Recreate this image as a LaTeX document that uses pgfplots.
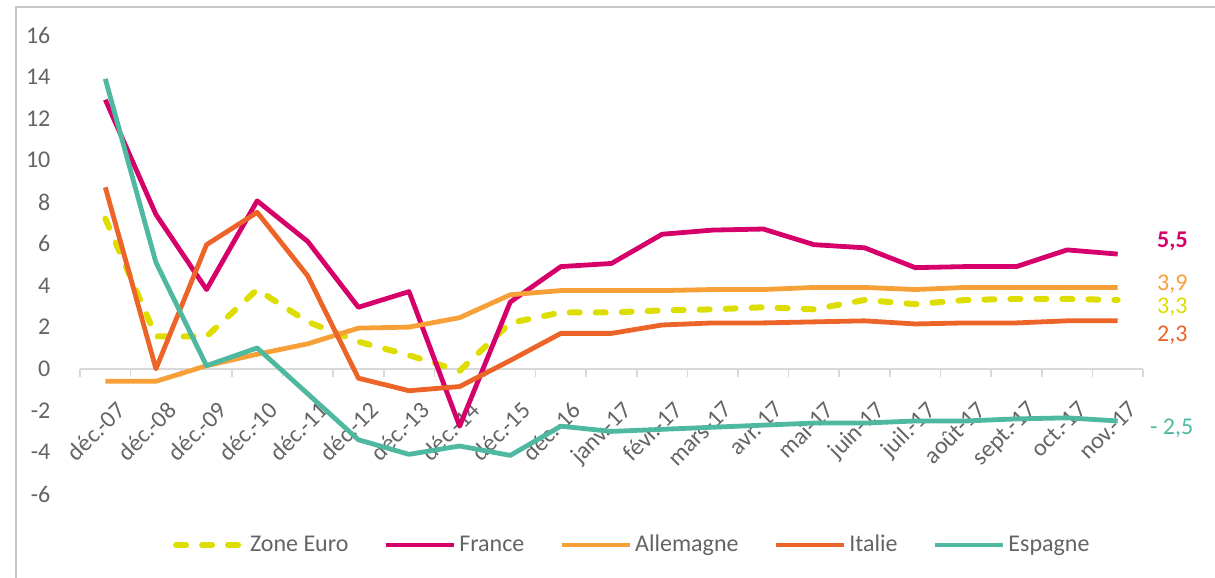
\documentclass[border=0pt]{standalone}
\usepackage{fontspec}
\setmainfont{Carlito}
\usepackage{pgfplots}
\pgfplotsset{compat=1.18}
\usepackage{pgfplotstable}

\definecolor{cEuro}{RGB}{221,221,0}
\definecolor{cFrance}{RGB}{214,0,106}
\definecolor{cAll}{RGB}{247,160,56}
\definecolor{cIta}{RGB}{237,100,40}
\definecolor{cEsp}{RGB}{79,184,160}
\definecolor{tickgray}{RGB}{100,100,100}

% x = 0..20 : déc.-07 ... nov.-17
\pgfplotstableread{
x  euro  france  allem  italie  espagne
0  7.2   12.9   -0.6    8.7    13.9
1  1.55   7.4   -0.6    0.0     5.1
2  1.55   3.8    0.15   5.95    0.15
3  3.8    8.05   0.7    7.5     1.0
4  2.25   6.1    1.2    4.45   -1.2
5  1.3    2.95   1.95  -0.45   -3.4
6  0.65   3.7    2.0   -1.05   -4.1
7 -0.1   -2.75   2.45  -0.85   -3.7
8  2.2    3.2    3.55   0.4    -4.15
9  2.7    4.9    3.75   1.7    -2.75
10 2.7    5.05   3.75   1.7    -3.0
11 2.8    6.45   3.75   2.1    -2.9
12 2.85   6.65   3.8    2.2    -2.8
13 2.95   6.7    3.8    2.2    -2.7
14 2.85   5.95   3.9    2.25   -2.6
15 3.3    5.8    3.9    2.3    -2.6
16 3.1    4.85   3.8    2.15   -2.5
17 3.3    4.9    3.9    2.2    -2.5
18 3.35   4.9    3.9    2.2    -2.4
19 3.35   5.7    3.9    2.3    -2.35
20 3.3    5.5    3.9    2.3    -2.5
}\data

\begin{document}
\begin{tikzpicture}
\useasboundingbox (0,0) rectangle (607.5pt,289pt);
\draw[black!22, line width=0.8pt] (8pt,0) -- (8pt,285.5pt) -- (607.5pt,285.5pt);
\begin{axis}[
    at={(40pt,42pt)}, anchor=south west,
    scale only axis,
    width=531.5pt, height=229.5pt,
    xmin=-0.5, xmax=20.5,
    ymin=-6, ymax=16,
    axis x line*=middle,
    axis y line*=left,
    y axis line style={draw=none},
    x axis line style={draw=black!15, line width=0.8pt},
    hide obscured x ticks=false,
    hide obscured y ticks=false,
    tick align=outside,
    xtick={0,...,20},
    xticklabels={déc.-07,déc.-08,déc.-09,déc.-10,déc.-11,déc.-12,déc.-13,déc.-14,déc.-15,déc.-16,janv.-17,févr.-17,mars-17,avr.-17,mai-17,juin-17,juil.-17,août-17,sept.-17,oct.-17,nov.-17},
    major x tick style={draw=none},
    minor xtick={-0.5,0.5,...,20.5},
    minor x tick style={draw=black!15, line width=0.8pt},
    minor tick length=4pt,
    ytick={-6,-4,...,16},
    major y tick style={draw=none},
    ticklabel style={font=\fontsize{12}{14}\selectfont, text=tickgray},
    xticklabel style={rotate=45, anchor=north east, xshift=-1pt, yshift=-8pt},
    yticklabel style={anchor=east, xshift=-7pt},
    /pgf/number format/assume math mode=true,
    clip=false,
    line join=round,
    legend style={at={(0.52,-0.111)}, anchor=center, draw=none, fill=none,
        legend columns=5, font=\fontsize{12}{14}\selectfont, text=tickgray,
        /tikz/every even column/.append style={column sep=16pt},
        /tikz/every odd column/.append style={column sep=0pt},
        nodes={inner xsep=1.5pt}},
    legend image code/.code={\draw[#1] (0pt,0pt) -- (34pt,0pt);},
]
\addplot[cEuro, line width=3pt, line cap=round, dash pattern=on 5pt off 8pt] table[x=x, y=euro] {\data};
\addplot[cFrance, line width=2.4pt] table[x=x, y=france] {\data};
\addplot[cAll, line width=2.4pt] table[x=x, y=allem] {\data};
\addplot[cIta, line width=2.4pt] table[x=x, y=italie] {\data};
\addplot[cEsp, line width=2.4pt] table[x=x, y=espagne] {\data};
\legend{Zone Euro, France, Allemagne, Italie, Espagne}

\node[anchor=west, text=cFrance, font=\fontsize{12}{14}\selectfont\bfseries] at (axis cs:20.64,6.1) {5,5};
\node[anchor=west, text=cAll, font=\fontsize{12}{14}\selectfont] at (axis cs:20.64,4.05) {3,9};
\node[anchor=west, text=cEuro, font=\fontsize{12}{14}\selectfont] at (axis cs:20.64,2.95) {3,3};
\node[anchor=west, text=cIta, font=\fontsize{12}{14}\selectfont] at (axis cs:20.64,1.6) {2,3};
\node[anchor=west, text=cEsp, font=\fontsize{12}{14}\selectfont] at (axis cs:20.5,-2.85) {- 2,5};
\end{axis}
\end{tikzpicture}
\end{document}
